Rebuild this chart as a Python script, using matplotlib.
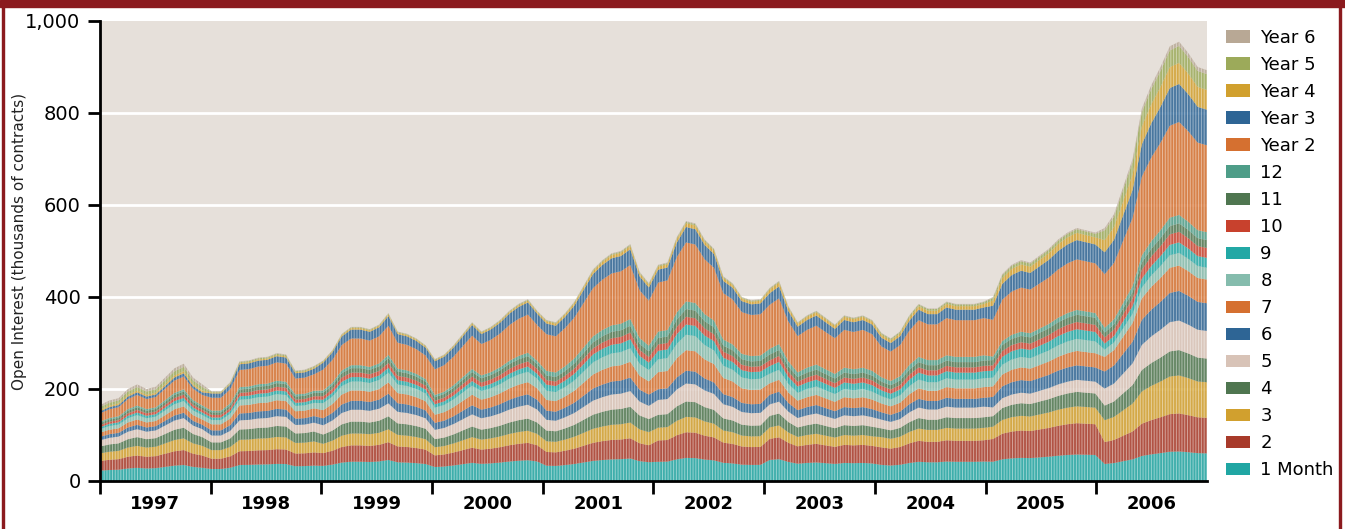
import numpy as np
import matplotlib
matplotlib.use("Agg")
import matplotlib.pyplot as plt
from matplotlib.patches import Rectangle, Patch

plt.rcParams['font.family'] = ['DejaVu Sans']
plt.rcParams['hatch.color'] = (1, 1, 1, 0.45)
plt.rcParams['hatch.linewidth'] = 0.7

# Total open interest, thousands of contracts, monthly Jan 1997 .. Dec 2006
total = [
    165, 175, 180, 200, 210, 200, 205, 225, 245, 255, 225, 210,   # 1997
    195, 195, 215, 260, 262, 268, 270, 278, 275, 240, 242, 250,   # 1998
    262, 285, 320, 335, 335, 330, 340, 365, 325, 320, 310, 295,   # 1999
    265, 275, 295, 320, 345, 325, 335, 350, 370, 385, 395, 370,   # 2000
    350, 345, 365, 390, 425, 460, 480, 495, 500, 515, 455, 430,   # 2001
    470, 475, 530, 565, 560, 525, 505, 445, 430, 400, 393, 395,   # 2002
    420, 435, 380, 345, 360, 370, 355, 340, 360, 355, 360, 350,   # 2003
    322, 310, 325, 360, 385, 375, 375, 390, 385, 385, 385, 390,   # 2004
    400, 450, 470, 480, 475, 490, 505, 525, 540, 550, 545, 540,   # 2005
    550, 580, 640, 700, 810, 860, 900, 945, 955, 930, 900, 893,   # 2006
]

years = list(range(1997, 2007))

# Share of each contract (percent of total) by year, 1997 .. 2006
share_1m = [15, 14, 13, 12, 10, 9, 11, 11, 11, 7]
share_2 = [14, 12, 11, 10, 9, 10, 11, 12, 13, 9]
share_3 = [11, 10, 8, 7, 7, 6, 6, 7, 7, 9]
share_4 = [10, 9, 8, 7, 7, 6, 6, 6, 6, 6]
share_5 = [9, 8, 8, 8, 7, 7, 6, 6, 5, 7]
share_6 = [5, 6, 6, 6, 6, 5, 5, 5, 6, 7]
share_7 = [6, 7, 7, 7, 7, 8, 6, 6, 6, 6]
share_8 = [5, 5, 6, 6, 6, 6, 5, 5, 5, 3]
share_9 = [3, 3, 3, 3, 4, 4, 4, 4, 4, 2.5]
share_10 = [3, 3, 3, 3, 3, 3, 3, 3, 3, 2.5]
share_11 = [3, 3, 3, 3, 3, 3, 3, 3, 3, 2]
share_12 = [2, 2, 2, 2, 3, 3, 3, 3, 2, 2]
share_y2 = [12, 15, 18, 22, 24, 23, 23, 21, 21, 22]
share_y3 = [3, 5, 6, 7, 7, 6, 6, 6, 8, 9]
share_y4 = [2, 1, 1, 1, 1.5, 1.5, 2, 2, 3, 5]
share_y5 = [4, 1, 0.5, 0.5, 0.5, 0.5, 0.5, 1, 1.5, 4]
share_y6 = [3, 0.5, 0.3, 0.3, 0.3, 0.3, 0.3, 0.3, 0.5, 1]

labels = ["1 Month", "2", "3", "4", "5", "6", "7", "8", "9", "10", "11", "12",
          "Year 2", "Year 3", "Year 4", "Year 5", "Year 6"]
colors = ["#20a6a3", "#a83a2a", "#d1a02e", "#4f7650", "#d8c3b7", "#2e6595",
          "#d57030", "#85bcad", "#22a8a5", "#c8412d", "#4f7650", "#4e9d88",
          "#d57030", "#2e6595", "#d1a02e", "#9caa5a", "#b8a895"]

shares = np.array([share_1m, share_2, share_3, share_4, share_5, share_6,
                   share_7, share_8, share_9, share_10, share_11, share_12,
                   share_y2, share_y3, share_y4, share_y5, share_y6], dtype=float)
shares = shares / shares.sum(axis=0)
tot = np.array(total, dtype=float)
layers = [tot * np.repeat(row, 12) for row in shares]

x = np.linspace(1997, 2007, len(total))

fig = plt.figure(figsize=(13.45, 5.29), dpi=100)
ax = fig.add_axes([100 / 1345, 1 - 481 / 529, 1107 / 1345, 460 / 529])
ax.set_facecolor("#e6e0da")

polys = ax.stackplot(x, layers, colors=colors, alpha=0.85, linewidth=0)
for p in polys:
    p.set_hatch("||||||")

ax.set_xlim(1997, 2007)
ax.set_ylim(0, 1000)
ax.set_yticks([0, 200, 400, 600, 800, 1000])
ax.set_yticklabels(["0", "200", "400", "600", "800", "1,000"])
for yv in [200, 400, 600, 800]:
    ax.axhline(yv, color="white", lw=2, zorder=0.5)

ax.set_xticks(years)
ax.set_xticklabels([])
ax.set_xticks([yr + 0.5 for yr in years], minor=True)
ax.set_xticklabels([str(yr) for yr in years], minor=True, fontsize=13, fontweight="bold")
ax.tick_params(axis="x", which="minor", length=0, pad=10)
ax.tick_params(axis="x", which="major", length=9, width=2, direction="out")
ax.tick_params(axis="y", length=9, width=2, labelsize=14, pad=5)

for side in ["top", "right"]:
    ax.spines[side].set_visible(False)
for side in ["left", "bottom"]:
    ax.spines[side].set_linewidth(2)

ax.set_ylabel("Open Interest (thousands of contracts)", fontsize=11, color="#222222")
ax.yaxis.set_label_coords(-0.066, 0.52)

handles = [Patch(facecolor=c, edgecolor="none") for c in colors][::-1]
fig.legend(handles, labels[::-1], loc="upper left", bbox_to_anchor=(1226 / 1345, 1 - 29 / 529),
           frameon=False, fontsize=13, handlelength=1.35, handleheight=0.7,
           labelspacing=0.5, handletextpad=0.55, borderaxespad=0, borderpad=0)

# dark red frame
red = "#8b1a1e"
fig.patches.append(Rectangle((0, 1 - 7 / 529), 1, 7 / 529, transform=fig.transFigure,
                             color=red, zorder=10))
fig.patches.append(Rectangle((2 / 1345, 0), 2 / 1345, 1, transform=fig.transFigure,
                             color=red, zorder=10))
fig.patches.append(Rectangle((1339 / 1345, 0), 2 / 1345, 1, transform=fig.transFigure,
                             color=red, zorder=10))

fig.savefig("out.png", dpi=100)
